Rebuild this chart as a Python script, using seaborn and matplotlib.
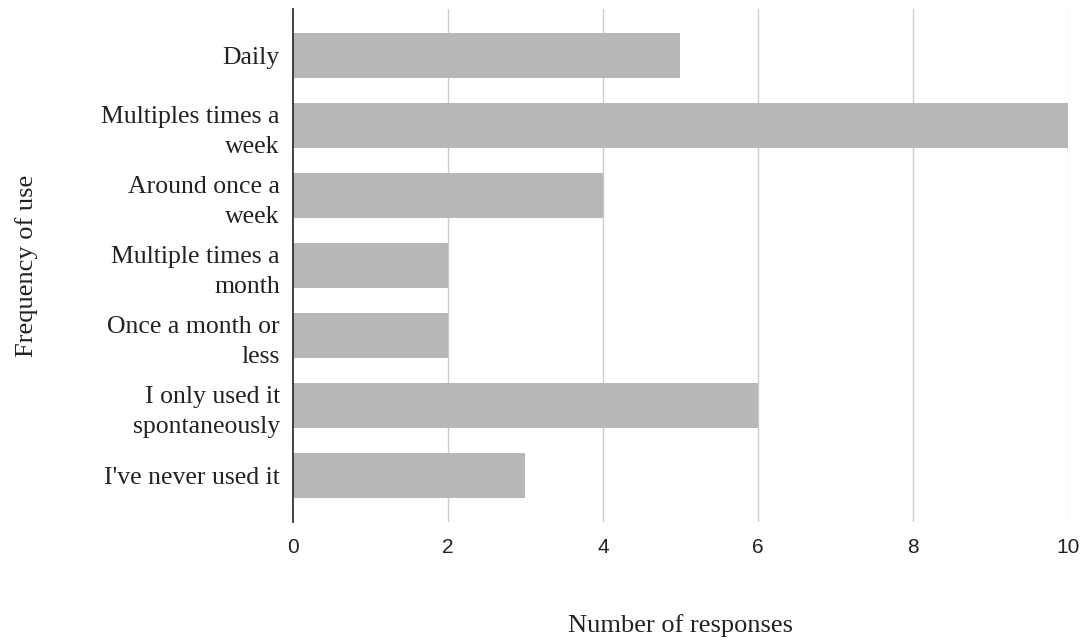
import numpy as np
import pandas as pd
import seaborn as sns
from matplotlib import pyplot as plt

# categories and counts
categories = [
    "Daily",
    "Multiples times a\nweek",
    "Around once a\nweek",
    "Multiple times a\nmonth",
    "Once a month or\nless",
    "I only used it\nspontaneously",
    "I've never used it",
]
counts = [5, 10, 4, 2, 2, 6, 3]
xticks = [0, 2, 4, 6, 8, 10]

sns.set_style("white")
plt.rcParams['font.family'] = ['Liberation Serif', 'DejaVu Serif']

df = pd.DataFrame({"freq": categories, "n": counts})

fig = plt.figure(figsize=(10.85, 6.42), dpi=100)
ax = fig.add_axes([0.270, 0.187, 0.714, 0.799])

sns.barplot(data=df, x="n", y="freq", color="#b7b7b7", saturation=1,
            width=0.643, linewidth=0, ax=ax, zorder=2)

ax.set_xlim(0, 10)
ax.set_ylim(6.664, -0.664)
ax.set_xticks(xticks)
ax.set_xticklabels([str(t) for t in xticks], family='Liberation Sans', fontsize=15)
ax.tick_params(axis='x', length=0, pad=11.5, colors='#222222')
ax.tick_params(axis='y', length=0, pad=9.5, labelsize=18.5, colors='#222222')
for lab in ax.get_yticklabels():
    lab.set_linespacing(1.5)

# vertical grid lines
ax.grid(axis='x', color='#cccccc', linewidth=1)
ax.grid(axis='y', visible=False)
ax.set_axisbelow(True)
ax.xaxis.get_gridlines()[0].set_visible(False)

for s in ['top', 'right', 'bottom']:
    ax.spines[s].set_visible(False)
ax.spines['left'].set_color('#333333')
ax.spines['left'].set_linewidth(1.3)
ax.spines['left'].set_zorder(3)

ax.set_xlabel("Number of responses", fontsize=19, color='#222222')
ax.set_ylabel("Frequency of use", fontsize=19, color='#222222')
ax.xaxis.set_label_coords(0.5, -0.18)
ax.yaxis.set_label_coords(-0.329, 0.5)

fig.savefig("out.png", dpi=100)
